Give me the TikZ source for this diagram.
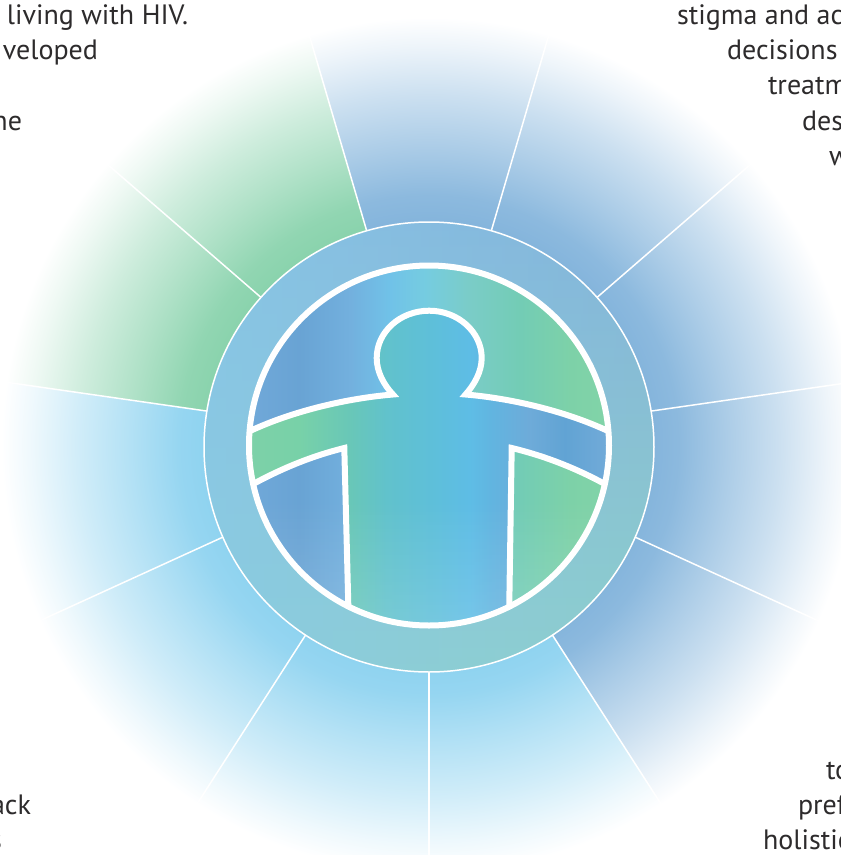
\documentclass[tikz,border=0pt]{standalone}
\usepackage{fontspec}
\setmainfont{PT Sans}
\usetikzlibrary{fadings}
\definecolor{sBlue}{HTML}{85B5DC}
\definecolor{sSky}{HTML}{8FD3F0}
\definecolor{sGreen}{HTML}{8AD3AD}
\definecolor{ink}{HTML}{2D2B2C}
\definecolor{ringA}{HTML}{84B4DA}
\definecolor{ringB}{HTML}{8ECFCB}
\definecolor{ringC}{HTML}{8ACBEA}
% radial: 25bp = radius 440 of the wheel disc
\newcommand{\wheelshade}[2]{\pgfdeclareradialshading{#1}{\pgfpointorigin}{%
  color(0bp)=(#2); color(12.8bp)=(#2);
  color(14.2bp)=(#2!94!white); color(17bp)=(#2!68!white);
  color(19.9bp)=(#2!42!white); color(22.7bp)=(#2!14!white);
  color(24.3bp)=(white); color(50bp)=(white)}}
\wheelshade{wheelBlue}{sBlue}
\wheelshade{wheelSky}{sSky}
\wheelshade{wheelGreen}{sGreen}
% horizontal: x=250..610 px maps on 25..75bp
\pgfdeclarehorizontalshading{discBack}{100bp}{%
  rgb(0bp)=(0.44,0.66,0.85); rgb(25bp)=(0.44,0.66,0.85);
  rgb(31.9bp)=(0.41,0.64,0.83); rgb(38.9bp)=(0.45,0.69,0.87);
  rgb(44.4bp)=(0.44,0.76,0.91); rgb(49.3bp)=(0.46,0.80,0.88);
  rgb(55.6bp)=(0.48,0.80,0.78); rgb(62.5bp)=(0.45,0.80,0.71);
  rgb(69.4bp)=(0.49,0.82,0.66); rgb(75bp)=(0.51,0.83,0.66); rgb(100bp)=(0.51,0.83,0.66)}
\pgfdeclarehorizontalshading{discBody}{100bp}{%
  rgb(0bp)=(0.49,0.82,0.66); rgb(25bp)=(0.49,0.82,0.66);
  rgb(31.9bp)=(0.47,0.82,0.66); rgb(38.9bp)=(0.41,0.78,0.72);
  rgb(44bp)=(0.38,0.76,0.80);
  rgb(50bp)=(0.37,0.75,0.85); rgb(55.6bp)=(0.37,0.74,0.90);
  rgb(58.3bp)=(0.38,0.71,0.88); rgb(63.9bp)=(0.43,0.67,0.85);
  rgb(68.75bp)=(0.38,0.64,0.83); rgb(75bp)=(0.45,0.67,0.85); rgb(100bp)=(0.45,0.67,0.85)}
\tikzfading[name=liftDown, top color=transparent!100, bottom color=transparent!85]
\tikzfading[name=ringLeft, left color=transparent!30, right color=transparent!100]
\tikzset{
  txt/.style={inner sep=0pt,outer sep=0pt,text=ink,font=\fontsize{28}{32}\selectfont},
  tl/.style={txt,anchor=base west},
  tr/.style={txt,anchor=base east},
  spoke/.style={draw=white,line width=1.5pt},
  figline/.style={draw=white,line width=6pt,miter limit=30},
}
\def\bodypath{(238,438) -- (250,431)
  .. controls (295,410) and (350,398) .. (393,394.5)
  .. controls (384,385) and (376.7,372) .. (376.7,358)
  .. controls (376.7,332) and (400,310.7) .. (429.2,310.7)
  .. controls (458,310.7) and (481.7,332) .. (481.7,358)
  .. controls (481.7,372) and (474,385) .. (465.5,394.5)
  .. controls (508,398) and (563,410) .. (608,431)
  -- (622,438) -- (616,490) -- (603,483)
  .. controls (575,468) and (545,456) .. (511.7,448)
  -- (509.3,604) -- (508,650) -- (349,650) -- (348.3,605)
  -- (344.3,448)
  .. controls (312,456) and (283,468) .. (255,483)
  -- (242,490) -- cycle}
\begin{document}
\begin{tikzpicture}[x=1pt,y=-1pt]
\useasboundingbox (0,0) rectangle (841,855);
\clip (0,0) rectangle (841,855);
% wheel sectors
\foreach \k/\sh in {0/wheelSky,1/wheelSky,2/wheelSky,3/wheelGreen,4/wheelGreen,5/wheelBlue,6/wheelBlue,7/wheelBlue,8/wheelBlue,9/wheelBlue,10/wheelSky}{
  \begin{scope}[shift={(429,443)}]
    \clip (0,0) -- ({90+\k*32.7273}:800) -- ({90+(\k+1)*32.7273}:800) -- cycle;
    \shade[shading=\sh] (0,2) circle (440);
  \end{scope}
}
\foreach \k in {0,...,10}{
  \begin{scope}[shift={(429,443)}]
    \draw[spoke] (0,0) -- ({90+\k*32.7273}:430);
  \end{scope}
}
% ring
\shade[shading=axial,top color=ringA,bottom color=ringB] (429,447) circle (225);
\fill[ringC,path fading=ringLeft] (429,447) circle (225);
\draw[spoke] (429,447) circle (225);
% inner disc
\begin{scope}
  \clip (429,445.5) circle (180);
  \shade[shading=discBack] (250,265) rectangle (610,627);
  \begin{scope}
    \clip \bodypath;
    \shade[shading=discBody] (250,265) rectangle (610,627);
  \end{scope}
  \fill[white,path fading=liftDown] (250,500) rectangle (610,627);
  \draw[figline] \bodypath;
\end{scope}
\draw[figline] (429,445.5) circle (180);
% texts cut by the picture's edge
\node[tr] (t1) at (188,24) {e living with HIV.};
\node[tr] (t2) at (98,59) {veloped};
\node[tr] (t3) at (22,130) {ne};
\node[tr] (t4) at (31,814) {ack};
\node[tr] (t13) at (2,849) {s};
\node[tl] (t5) at (677,24) {stigma and ac};
\node[tl] (t6) at (727,59) {decisions};
\node[tl] (t7) at (768,94) {treatm};
\node[tl] (t8) at (802,130) {des};
\node[tl] (t9) at (829,165) {w};
\node[tl] (t10) at (826,779) {to};
\node[tl] (t11) at (798,814) {pref};
\node[tl] (t12) at (763,849) {holistic};
\end{tikzpicture}
\end{document}
